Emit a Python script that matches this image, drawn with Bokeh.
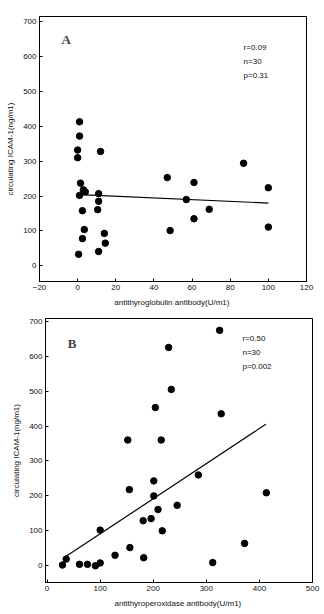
from bokeh.plotting import figure
from bokeh.models import Range1d, Label, FixedTicker
from bokeh.embed import file_html
from bokeh.resources import INLINE

# Panel A: antithyroglobulin antibody vs circulating ICAM-1
tg_x = [1, 1, 0, 0, 12, 87, 1.5, 3, 4, 1, 2.5, 3.5, 2.5, 0.5, 11, 11, 10.5,
        14, 14.5, 11, 47, 48.5, 57, 61, 61, 69, 100, 100]
tg_y = [413, 372, 332, 310, 328, 294, 237, 218, 212, 202, 158, 104, 78, 33, 207,
        185, 161, 93, 65, 41, 253, 101, 190, 239, 135, 162, 224, 111]
tg_fit_x = [1, 100]
tg_fit_y = [204, 180]
tg_stats = ["r=0.09", "n=30", "p=0.31"]

# Panel B: antithyroperoxidase antibody vs circulating ICAM-1
tpo_x = [325, 229, 234, 204, 328, 152, 215, 285, 201, 155, 201, 413, 245, 209,
         196, 181, 217, 100, 372, 156, 128, 182, 36, 29, 61, 76, 91, 100, 312]
tpo_y = [674, 625, 505, 453, 435, 360, 360, 260, 243, 218, 200, 209, 173, 161,
         135, 129, 100, 102, 64, 52, 30, 23, 19, 2, 4, 4, 0, 8, 9]
tpo_fit_x = [33, 412]
tpo_fit_y = [24, 405]
tpo_stats = ["r=0.50", "n=30", "p=0.002"]

y_ticks = [0, 100, 200, 300, 400, 500, 600, 700]
tg_ticks = [-20, 0, 20, 40, 60, 80, 100, 120]
tpo_ticks = [0, 100, 200, 300, 400, 500]

FONT = "Liberation Sans"


def make_panel(xs, ys, fx, fy, stats, letter, xlabel, xr, yr, xticks,
               height, top, bottom, left, right, stat_xy, letter_xy):
    p = figure(width=324, height=height, output_backend="svg", toolbar_location=None,
               x_range=Range1d(*xr), y_range=Range1d(*yr),
               min_border_top=top, min_border_bottom=bottom,
               min_border_left=left, min_border_right=right)
    p.xgrid.visible = False
    p.ygrid.visible = False
    p.outline_line_color = "black"
    p.outline_line_width = 1
    p.background_fill_color = "white"
    p.border_fill_color = "white"
    for ax in (p.xaxis[0], p.yaxis[0]):
        ax.axis_line_color = "black"
        ax.major_tick_in = 3
        ax.major_tick_out = 0
        ax.minor_tick_in = 0
        ax.minor_tick_out = 0
        ax.major_label_text_font = FONT
        ax.major_label_text_font_size = "8px"
        ax.major_label_text_color = "#111111"
        ax.axis_label_text_font = FONT
        ax.axis_label_text_font_size = "8px"
        ax.axis_label_text_font_style = "normal"
        ax.axis_label_text_color = "#111111"
        ax.major_label_standoff = 3
    p.xaxis[0].ticker = FixedTicker(ticks=xticks)
    p.yaxis[0].ticker = FixedTicker(ticks=y_ticks)
    p.xaxis[0].axis_label = xlabel
    p.yaxis[0].axis_label = "circulating ICAM-1(ng/m1)"
    p.xaxis[0].axis_label_standoff = 5
    p.yaxis[0].axis_label_standoff = 5

    p.line(fx, fy, line_color="black", line_width=1.2)
    p.scatter(xs, ys, size=6.5, fill_color="black", line_color="black", line_width=1)

    p.add_layout(Label(x=letter_xy[0], y=letter_xy[1], text=letter,
                       text_font="Liberation Serif", text_font_style="bold",
                       text_font_size="13px", text_baseline="middle", text_align="center"))
    sx, sy, dy = stat_xy
    for i, s in enumerate(stats):
        p.add_layout(Label(x=sx, y=sy - i * dy, text=s, text_font=FONT,
                           text_font_size="8px", text_baseline="middle",
                           text_color="#111111"))
    return p


pA = make_panel(tg_x, tg_y, tg_fit_x, tg_fit_y, tg_stats, "A",
                "antithyroglobulin  antibody(U/m1)", (-20, 120), (-45, 715), tg_ticks,
                310, 16, 29, 39, 18, (87, 627, 40), (-6, 649))
pB = make_panel(tpo_x, tpo_y, tpo_fit_x, tpo_fit_y, tpo_stats, "B",
                "antithyroperoxidase  antibody(U/m1)", (-3, 500), (-48, 708), tpo_ticks,
                304, 8, 32, 45, 12, (368, 650, 40), (47, 635))

open("out.html", "w").write(file_html([pA, pB], INLINE))
